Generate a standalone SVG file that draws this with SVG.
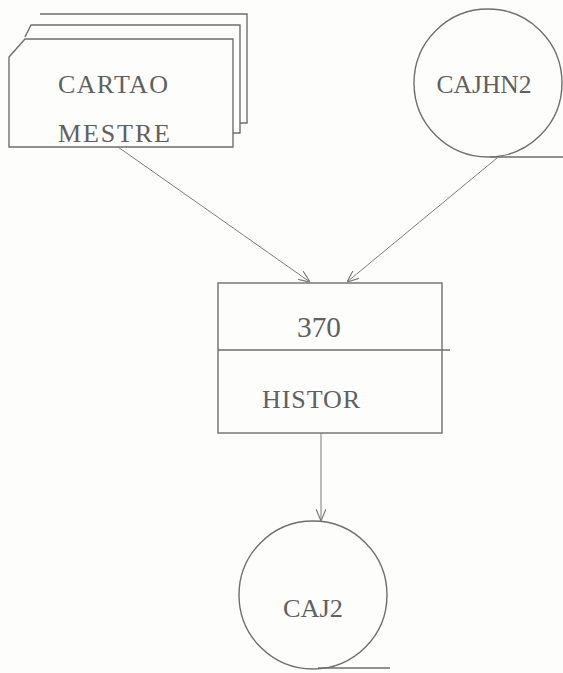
<svg xmlns="http://www.w3.org/2000/svg" width="563" height="673" viewBox="0 0 563 673">
<defs>
<style>
.s{fill:none;stroke:#6e6e6e;stroke-width:1.4}
.t{font-family:"Liberation Serif","Times New Roman",serif;font-size:26px;fill:#606060;text-anchor:middle}
.c{stroke:#7a7a7a;stroke-width:1;fill:none}
</style>
<marker id="ah" viewBox="0 0 12 10" refX="12" refY="5" markerWidth="12" markerHeight="10" markerUnits="userSpaceOnUse" orient="auto">
<path d="M0,0 L12,5 L0,10" fill="none" stroke="#7a7a7a" stroke-width="1.2"/>
</marker>
</defs>
<rect width="563" height="673" fill="#fdfdfb"/>
<g id="cartao-mestre">
<path class="s" d="M40,14 L247,14 L247,123 L240,123"/>
<path class="s" d="M25,37 L31,25 L240,25 L240,133 L233,133"/>
<path class="s" d="M9,57 L25,39 L233,39 L233,147 L9,147 Z"/>
<text class="t" x="113" y="93" textLength="110" lengthAdjust="spacing">CARTAO</text>
<text class="t" x="114" y="142" textLength="112" lengthAdjust="spacing">MESTRE</text>
</g>
<g id="cajhn2">
<circle class="s" cx="488" cy="83" r="74"/>
<line class="s" x1="490" y1="157" x2="563" y2="157"/>
<text class="t" x="484" y="93" textLength="95" lengthAdjust="spacingAndGlyphs">CAJHN2</text>
</g>
<g id="histor">
<rect class="s" x="218" y="283" width="224" height="150"/>
<line class="s" x1="218" y1="350" x2="450" y2="350"/>
<text class="t" x="319" y="337" style="font-size:29px" textLength="44" lengthAdjust="spacingAndGlyphs">370</text>
<text class="t" x="311" y="408" textLength="98" lengthAdjust="spacing">HISTOR</text>
</g>
<g id="caj2">
<circle class="s" cx="313" cy="595" r="74"/>
<line class="s" x1="318" y1="668" x2="390" y2="668"/>
<text class="t" x="313" y="617" textLength="60" lengthAdjust="spacingAndGlyphs">CAJ2</text>
</g>
<g id="connectors">
<line class="c" x1="118" y1="147" x2="310" y2="282" marker-end="url(#ah)"/>
<line class="c" x1="497" y1="158" x2="347" y2="282" marker-end="url(#ah)"/>
<line class="c" x1="321" y1="433" x2="321" y2="521" marker-end="url(#ah)"/>
</g>
</svg>
